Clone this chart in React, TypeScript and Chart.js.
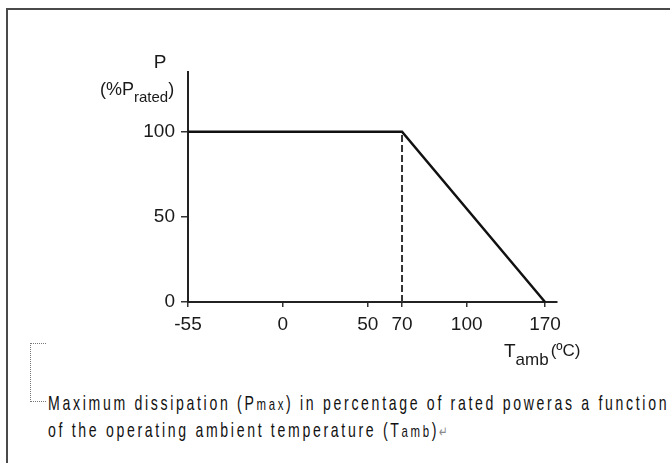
import React, { useEffect, useRef, useState } from 'react';
import { Chart, registerables, LinearScale } from 'chart.js';

// ---- data ----
const curveTemps = [-55, 70, 170];
const curvePower = [100, 100, 0];
const kneeTemps = [70, 70];
const kneePower = [0, 100];
const xTickValues = [-55, 0, 50, 70, 100, 170];
const yTickValues = [0, 50, 100];

const yTitle = 'P';
const yUnitMain = '(%P';
const yUnitSub = 'rated';
const yUnitEnd = ')';
const xTitleMain = 'T';
const xTitleSub = 'amb';
const xTitleUnit = '(ºC)';

const caption1a = 'Maximum dissipation (P';
const caption1b = 'max';
const caption1c = ') in percentage of rated poweras a function';
const caption2a = 'of the operating ambient temperature (T';
const caption2b = 'amb';
const caption2c = ')';
const captionMark = '↵';

const FONT = "'Liberation Sans', Arial, sans-serif";

class PiecewiseScale extends LinearScale {
  static id = 'piecewise';
  static defaults = { ...(LinearScale as any).defaults };
  getPixelForValue(value: any) {
    if (value === null || value === undefined || isNaN(value)) return NaN;
    const vals = (this as any).options.breakValues as number[];
    const fr = (this as any).options.breakFractions as number[];
    let i = 0;
    while (i < vals.length - 2 && value > vals[i + 1]) i++;
    const t = (value - vals[i]) / (vals[i + 1] - vals[i]);
    return this.getPixelForDecimal(fr[i] + t * (fr[i + 1] - fr[i]));
  }
  getValueForPixel(pixel: number) {
    const d = this.getDecimalForPixel(pixel);
    const vals = (this as any).options.breakValues as number[];
    const fr = (this as any).options.breakFractions as number[];
    let i = 0;
    while (i < fr.length - 2 && d > fr[i + 1]) i++;
    const t = (d - fr[i]) / (fr[i + 1] - fr[i]);
    return vals[i] + t * (vals[i + 1] - vals[i]);
  }
}

Chart.register(...registerables, PiecewiseScale as any);

const titlePlugin = {
  id: 'axisTitles',
  afterDraw(chart: any) {
    const ctx = chart.ctx as CanvasRenderingContext2D;
    const { left, top, right, bottom } = chart.chartArea;
    ctx.save();
    ctx.fillStyle = '#1a1a1a';
    ctx.textBaseline = 'alphabetic';
    // Y title
    ctx.textAlign = 'center';
    ctx.font = `19px ${FONT}`;
    ctx.fillText(yTitle, left - 28, top - 4);
    ctx.textAlign = 'left';
    let x = left - 88;
    const yb = top + 23;
    ctx.font = `18px ${FONT}`;
    ctx.fillText(yUnitMain, x, yb);
    x += ctx.measureText(yUnitMain).width;
    ctx.font = `15px ${FONT}`;
    ctx.fillText(yUnitSub, x, yb + 7);
    x += ctx.measureText(yUnitSub).width;
    ctx.font = `18px ${FONT}`;
    ctx.fillText(yUnitEnd, x, yb);
    // X title
    let tx = right - 53;
    const xb = bottom + 55;
    ctx.font = `19px ${FONT}`;
    ctx.fillText(xTitleMain, tx, xb);
    tx += ctx.measureText(xTitleMain).width;
    ctx.font = `17px ${FONT}`;
    ctx.fillText(xTitleSub, tx, xb + 8);
    tx += ctx.measureText(xTitleSub).width + 2;
    ctx.font = `17px ${FONT}`;
    ctx.fillText(xTitleUnit, tx, xb - 1);
    ctx.restore();
  },
};

export default function App() {
  const canvasRef = useRef<HTMLCanvasElement | null>(null);
  const lineRef = useRef<HTMLDivElement | null>(null);
  const [scale, setScale] = useState(0.6);

  useEffect(() => {
    if (lineRef.current) {
      const w = lineRef.current.scrollWidth;
      if (w > 0) setScale(621 / w);
    }
  }, []);

  useEffect(() => {
    if (!canvasRef.current) return;
    Chart.defaults.font.family = FONT;
    const chart = new Chart(canvasRef.current, {
      type: 'line',
      data: {
        datasets: [
          {
            data: kneeTemps.map((t, i) => ({ x: t, y: kneePower[i] })),
            borderColor: '#333',
            borderWidth: 2,
            borderDash: [7, 3],
            pointRadius: 0,
            clip: false as any,
          },
          {
            data: curveTemps.map((t, i) => ({ x: t, y: curvePower[i] })),
            borderColor: '#111',
            borderWidth: 2.5,
            pointRadius: 0,
            tension: 0,
            clip: false as any,
          },
        ],
      },
      options: {
        responsive: false,
        animation: false,
        events: [],
        layout: { padding: { top: 72, left: 128, right: 113, bottom: 28 } },
        plugins: {
          legend: { display: false },
          tooltip: { enabled: false },
          title: { display: false },
        },
        scales: {
          x: {
            type: 'piecewise' as any,
            min: -55,
            max: 177,
            breakValues: [-55, 0, 50, 70, 100, 170, 177],
            breakFractions: [0, 0.2566, 0.487, 0.58, 0.7553, 0.9675, 1],
            afterBuildTicks: (s: any) => {
              s.ticks = xTickValues.map((v) => ({ value: v }));
            },
            afterFit: (s: any) => {
              s.height = 40;
            },
            grid: { drawOnChartArea: false, drawTicks: true, tickLength: 5, color: '#333', lineWidth: 1.5 },
            border: { display: true, color: '#222', width: 2 },
            ticks: {
              font: { size: 19, family: FONT },
              color: '#1a1a1a',
              padding: 6,
              maxRotation: 0,
              autoSkip: false,
              callback: (v: any) => String(v),
            },
          } as any,
          y: {
            type: 'linear',
            min: 0,
            max: 135,
            afterBuildTicks: (s: any) => {
              s.ticks = yTickValues.map((v) => ({ value: v }));
            },
            afterFit: (s: any) => {
              s.width = 60;
            },
            grid: { drawOnChartArea: false, drawTicks: true, tickLength: 7, color: '#333', lineWidth: 1.5 },
            border: { display: true, color: '#222', width: 2 },
            ticks: {
              font: { size: 19, family: FONT },
              color: '#1a1a1a',
              padding: 6,
              callback: (v: any) => String(v),
            },
          },
        },
      },
      plugins: [titlePlugin],
    });
    return () => chart.destroy();
  }, []);

  const lineStyle: React.CSSProperties = {
    position: 'absolute',
    left: 48,
    fontFamily: FONT,
    fontSize: 21,
    lineHeight: '21px',
    letterSpacing: 4,
    whiteSpace: 'nowrap',
    color: '#111',
    transform: `scaleX(${scale})`,
    transformOrigin: 'left top',
  };
  const small: React.CSSProperties = { fontSize: 17 };

  return (
    <div style={{ position: 'absolute', left: 0, top: 0, width: 670, height: 463, overflow: 'hidden', background: '#fff' }}>
      <div
        style={{
          position: 'absolute',
          left: 6,
          top: 8,
          width: 800,
          height: 600,
          borderTop: '2px solid #4a4a4a',
          borderLeft: '2px solid #4a4a4a',
        }}
      />
      <canvas ref={canvasRef} width={670} height={370} style={{ position: 'absolute', left: 0, top: 0, display: 'block' }} />
      <div
        style={{
          position: 'absolute',
          left: 30,
          top: 343,
          width: 15,
          height: 57,
          borderTop: '1px dotted #777',
          borderLeft: '1px dotted #777',
          borderBottom: '1px dotted #777',
        }}
      />
      <div ref={lineRef} style={{ ...lineStyle, top: 392 }}>
        {caption1a}
        <span style={small}>{caption1b}</span>
        {caption1c}
      </div>
      <div style={{ ...lineStyle, top: 419 }}>
        {caption2a}
        <span style={small}>{caption2b}</span>
        {caption2c}
        <span style={{ color: '#888', fontSize: 15, letterSpacing: 0 }}>{captionMark}</span>
      </div>
    </div>
  );
}
